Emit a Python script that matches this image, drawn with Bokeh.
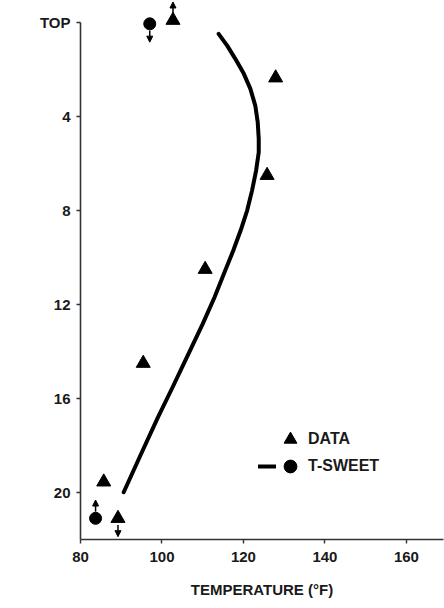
from bokeh.plotting import figure
from bokeh.models import (Range1d, FixedTicker, Legend, LegendItem, Label,
                          Arrow, NormalHead, ColumnDataSource)
from bokeh.embed import file_html
from bokeh.resources import INLINE

# ---- data ----
curve_tray = [0.48, 0.98, 1.54, 2.18, 2.82, 3.53, 4.24, 4.95, 5.52, 6.30, 7.15, 8.0,
              8.85, 9.70, 10.69, 11.69, 12.82, 14.10, 15.52, 16.80, 18.50, 19.99]
curve_temp = [113.9, 116.0, 118.0, 120.1, 121.7, 122.9, 123.5, 123.75, 123.75, 123.1, 122.1, 120.9,
              119.3, 117.5, 115.2, 112.9, 110.0, 106.5, 102.6, 99.0, 94.5, 90.6]

data_tray = [-0.1, 2.35, 6.5, 10.5, 14.5, 19.55, 21.1]
data_temp = [102.7, 127.9, 125.8, 110.6, 95.4, 85.7, 89.2]
data_arrow = [-1, 0, 0, 0, 0, 0, 1]      # -1 arrow upward, +1 arrow downward, 0 none

sweet_tray = [0.05, 21.1]
sweet_temp = [97.0, 83.7]
sweet_arrow = [1, -1]

x_ticks = [80, 100, 120, 140, 160]
y_ticks = [0, 4, 8, 12, 16, 20]
y_tick_labels = ["TOP", "4", "8", "12", "16", "20"]

INK = "#1a1a1a"
FONT = "Liberation Sans"

p = figure(width=444, height=608, output_backend="svg", toolbar_location=None,
           x_range=Range1d(80, 169.1), y_range=Range1d(22, -0.9),
           min_border_left=80, min_border_right=1, min_border_top=1,
           min_border_bottom=69, background_fill_color="white",
           border_fill_color="white")
p.outline_line_color = None
p.grid.visible = False

# axes
for ax in (p.xaxis, p.yaxis):
    ax.axis_line_color = "#333333"
    ax.axis_line_width = 1.6
    ax.major_tick_line_color = "#333333"
    ax.major_tick_line_width = 1.4
    ax.major_tick_out = 4
    ax.major_tick_in = 0
    ax.minor_tick_line_color = None
    ax.major_label_text_font = FONT
    ax.major_label_text_font_style = "bold"
    ax.major_label_text_font_size = "15px"
    ax.major_label_text_color = INK

p.xaxis.ticker = FixedTicker(ticks=x_ticks)
p.xaxis.major_label_standoff = 8
p.xaxis.axis_label = "TEMPERATURE (°F)"
p.xaxis.axis_label_text_font = FONT
p.xaxis.axis_label_text_font_style = "bold"
p.xaxis.axis_label_text_font_size = "15px"
p.xaxis.axis_label_text_color = INK
p.xaxis.axis_label_standoff = 16

p.yaxis.ticker = FixedTicker(ticks=y_ticks)
p.yaxis.major_label_overrides = {t: s for t, s in zip(y_ticks, y_tick_labels)}
p.yaxis.major_label_standoff = 6
p.yaxis.bounds = (0, 22)

p.add_layout(Label(x=-60, y=294, x_units="screen", y_units="screen",
                   text="TRAY NUMBER FROM TOP", angle=90, angle_units="deg",
                   text_align="center", text_baseline="middle",
                   text_font=FONT, text_font_style="bold",
                   text_font_size="15px", text_color=INK))

# T-SWEET curve
line_r = p.line(curve_temp, curve_tray, line_width=4, line_color="black",
                line_join="round", line_cap="round")

# data and T-SWEET points
tri_r = p.scatter(data_temp, data_tray, marker="triangle", size=14,
                  fill_color="black", line_color="black")
circ_r = p.scatter(sweet_temp, sweet_tray, marker="circle", size=12,
                   fill_color="black", line_color="black")

# small direction arrows on out-of-range points
xs0, ys0, xs1, ys1 = [], [], [], []
for temps, trays, dirs in ((data_temp, data_tray, data_arrow),
                           (sweet_temp, sweet_tray, sweet_arrow)):
    for t, y, d in zip(temps, trays, dirs):
        if d != 0:
            xs0.append(t); xs1.append(t)
            ys0.append(y + d * 0.28); ys1.append(y + d * 0.78)
arrow_src = ColumnDataSource(dict(x0=xs0, y0=ys0, x1=xs1, y1=ys1))
p.add_layout(Arrow(end=NormalHead(size=6, fill_color="black", line_color="black", line_width=1),
                   x_start="x0", y_start="y0", x_end="x1", y_end="y1",
                   source=arrow_src, line_color="black", line_width=1.5))

# legend (one row per Legend so the row pitch matches the reference)
common = dict(orientation="vertical", glyph_width=32, glyph_height=32, padding=0,
              margin=0, label_standoff=2, border_line_color=None,
              background_fill_alpha=0, label_text_font=FONT,
              label_text_font_style="bold", label_text_font_size="16px",
              label_text_color=INK, label_text_baseline="middle")
p.add_layout(Legend(items=[LegendItem(label="DATA", renderers=[tri_r])],
                    location=(194, 84), **common))
p.add_layout(Legend(items=[LegendItem(label="T-SWEET", renderers=[circ_r])],
                    location=(194, 57), **common))
p.add_layout(Legend(items=[LegendItem(label=" ", renderers=[line_r])],
                    location=(178, 65), glyph_width=18, glyph_height=16,
                    padding=0, margin=0, label_standoff=0, label_width=0,
                    label_text_font_size="1px", border_line_color=None,
                    background_fill_alpha=0))

open("out.html", "w").write(file_html(p, INLINE))
